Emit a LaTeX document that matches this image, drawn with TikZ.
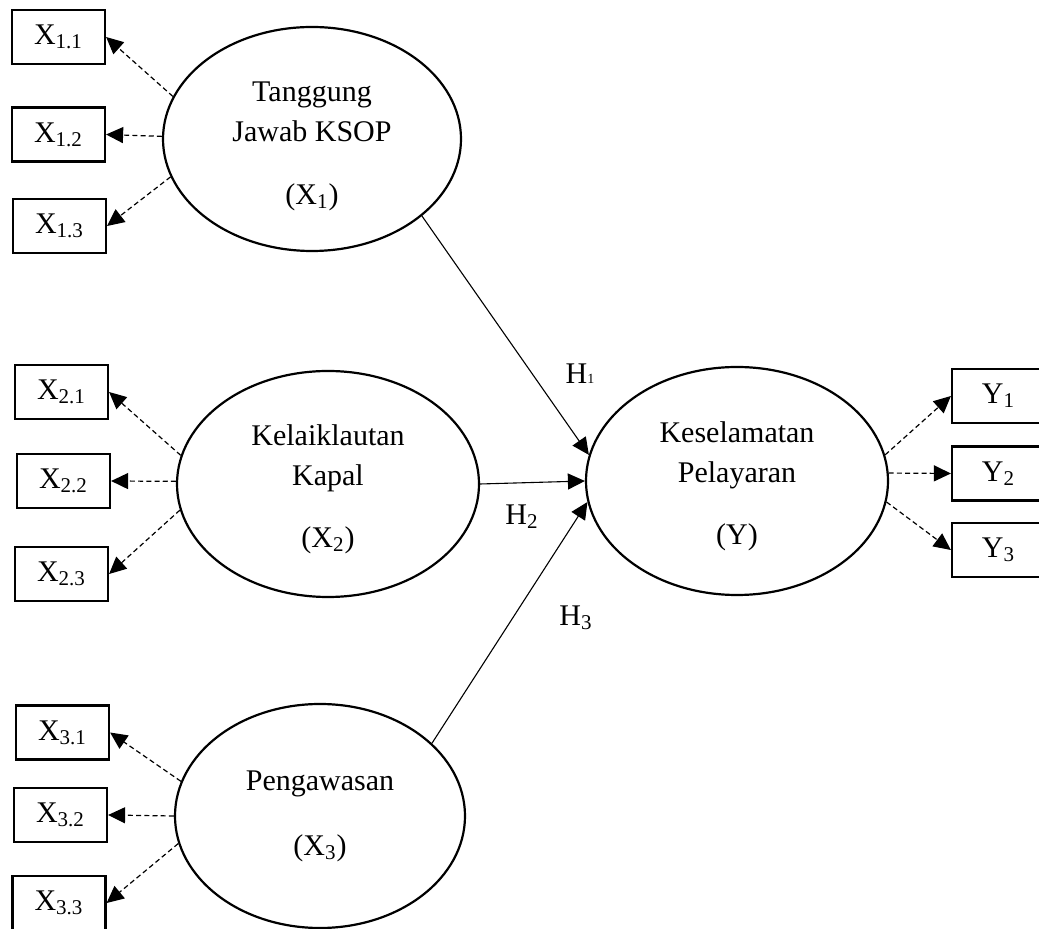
\documentclass[tikz,border=0pt]{standalone}
\usepackage{fontspec}
\setmainfont{Liberation Serif}
\usetikzlibrary{arrows.meta,shapes.geometric}
\tikzset{
  lat/.style={ellipse, draw=black, line width=1.1pt, inner sep=0pt, align=center, font=\fontsize{15}{20}\selectfont},
  ind/.style={rectangle, draw=black, line width=1.1pt, minimum width=46.5pt, minimum height=27pt, inner sep=0pt, font=\fontsize{15}{20}\selectfont},
  load/.style={-{Triangle[length=8.5pt,width=8pt]}, line width=0.6pt, dash pattern=on 2.5pt off 1.6pt},
  hyp/.style={-{Triangle[length=8.5pt,width=8pt]}, line width=0.55pt},
  lab/.style={font=\fontsize{15}{20}\selectfont, inner sep=0pt}
}

\begin{document}
\begin{tikzpicture}[x=0.5pt, y=-0.5pt]
  \clip (0,0) rectangle (1039,929);

  % latent variables
  \node[lat, minimum width=149pt, minimum height=112pt] (x1) at (312,139) {\rule{0pt}{17pt}Tanggung\\Jawab KSOP\\[11.5pt](X\textsubscript{1})};
  \node[lat, minimum width=151pt, minimum height=113pt] (x2) at (328,484) {\rule{0pt}{15.5pt}Kelaiklautan\\Kapal\\[11pt](X\textsubscript{2})};
  \node[lat, minimum width=145pt, minimum height=112pt] (x3) at (320,816) {Pengawasan\\[12.5pt](X\textsubscript{3})};
  \node[lat, minimum width=151pt, minimum height=114pt] (y) at (737,481) {\rule{0pt}{15.5pt}Keselamatan\\Pelayaran\\[11pt](Y)};

  % indicators
  \node[ind] (x11) at (58.5,37) {X\textsubscript{1.1}};
  \node[ind] (x12) at (58.5,134.5) {X\textsubscript{1.2}};
  \node[ind] (x13) at (59.5,226) {X\textsubscript{1.3}};
  \node[ind] (x21) at (61.5,392) {X\textsubscript{2.1}};
  \node[ind] (x22) at (63.5,481) {X\textsubscript{2.2}};
  \node[ind] (x23) at (61.5,574) {X\textsubscript{2.3}};
  \node[ind] (x31) at (62.5,732.5) {X\textsubscript{3.1}};
  \node[ind] (x32) at (60.5,815) {X\textsubscript{3.2}};
  \node[ind] (x33) at (59,903) {X\textsubscript{3.3}};
  \node[ind] (y1) at (998.5,396) {Y\textsubscript{1}};
  \node[ind] (y2) at (998.5,473.5) {Y\textsubscript{2}};
  \node[ind] (y3) at (998.5,550) {Y\textsubscript{3}};

  \draw[load] (x1.163) -- (x11.east);
  \draw[load] (x1.179) -- (x12.east);
  \draw[load] (x1.195) -- (x13.east);
  \draw[load] (x2.169) -- (x21.east);
  \draw[load] (x2.179) -- (x22.east);
  \draw[load] (x2.190) -- (x23.east);
  \draw[load] (x3.166) -- (x31.east);
  \draw[load] (x3.180) -- (x32.east);
  \draw[load] (x3.191) -- (x33.east);
  \draw[load] (y.10) -- (y1.west);
  \draw[load] (y.3) -- (y2.west);
  \draw[load] (y.352) -- (y3.west);

  % hypotheses
  \draw[hyp] (x1.325) -- (y.170);
  \draw[hyp] (x2.east) -- (y.west);
  \draw[hyp] (x3.33) -- (y.188);
  \node[lab] (h1) at (580,374) {H{\fontsize{7}{7}\selectfont 1}};
  \node[lab] (h2) at (522,517) {H\textsubscript{2}};
  \node[lab] (h3) at (576,618) {H\textsubscript{3}};
\end{tikzpicture}
\end{document}
